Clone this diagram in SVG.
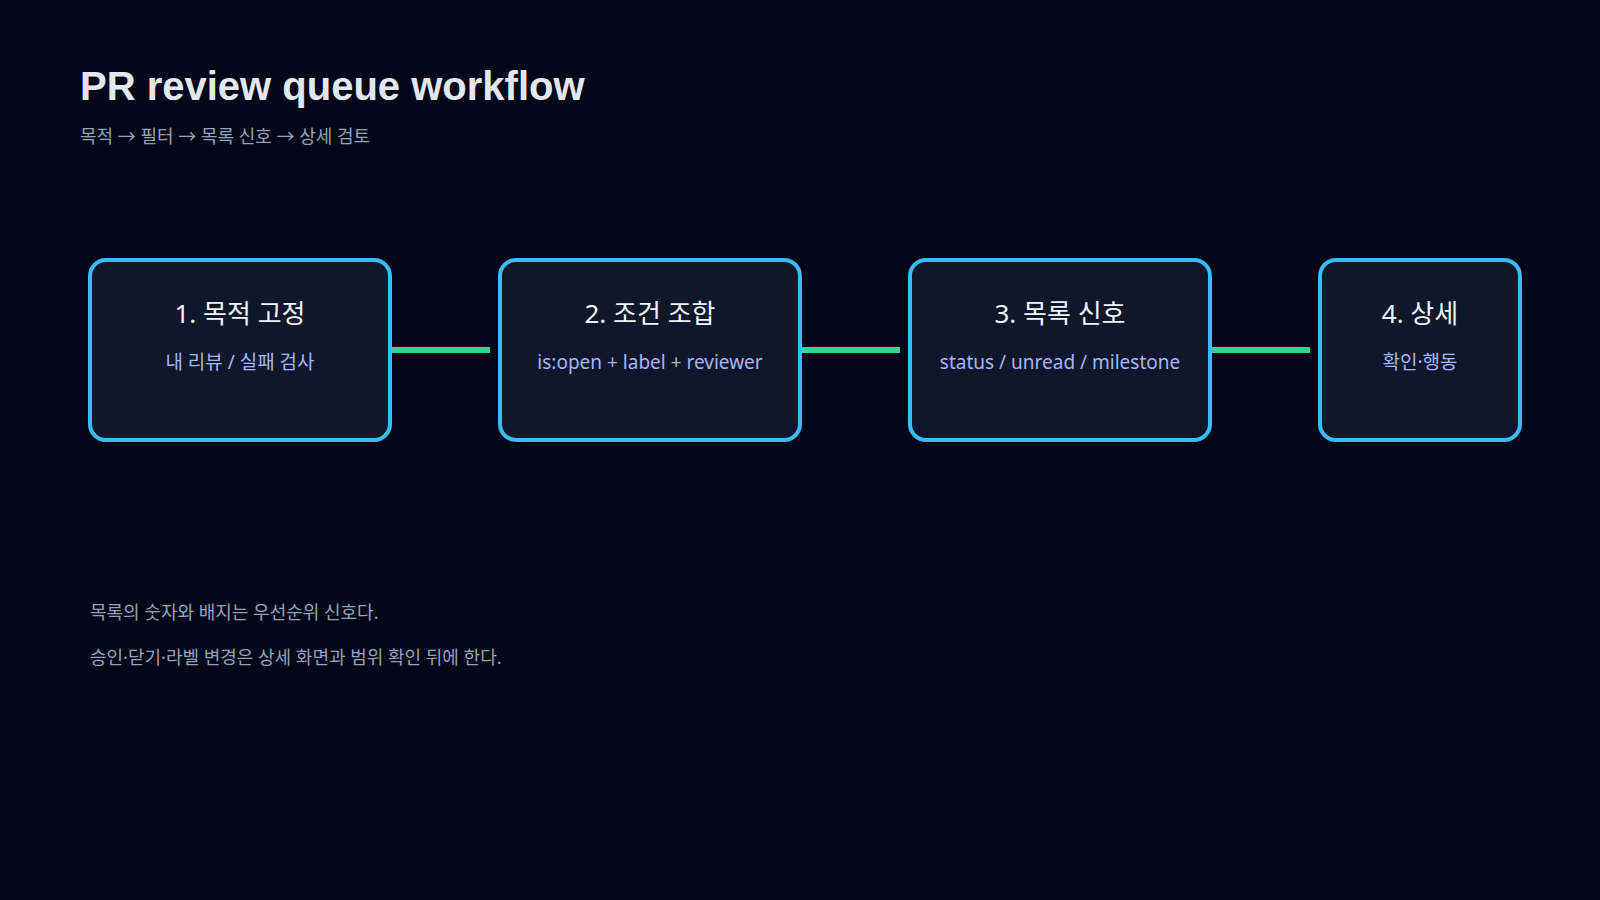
<svg xmlns="http://www.w3.org/2000/svg" width="1600" height="900" viewBox="0 0 1600 900">
<style>
.node rect{fill:#0f172a;stroke:#38bdf8;stroke-width:4}
.t{font-family:"Noto Sans","Noto Sans CJK KR",sans-serif;font-size:26px;fill:#f1f5f9;text-anchor:middle}
.s{font-family:"Noto Sans","Noto Sans CJK KR",sans-serif;font-size:19px;fill:#a5b4fc;text-anchor:middle}
.n{font-family:"Noto Sans","Noto Sans CJK KR",sans-serif;font-size:18px;fill:#94a3b8}
#edges line{stroke:#34d399;stroke-width:6}
</style>
<rect width="1600" height="900" fill="#020617"/>
<text x="80" y="100" font-family="Liberation Sans,Noto Sans CJK KR,sans-serif" font-weight="bold" font-size="40" fill="#e2e8f0">PR review queue workflow</text>
<text x="80" y="143" class="n" font-size="20">목적 → 필터 → 목록 신호 → 상세 검토</text>
<g id="edges">
<line x1="390" y1="350" x2="490" y2="350"/>
<line x1="800" y1="350" x2="900" y2="350"/>
<line x1="1210" y1="350" x2="1310" y2="350"/>
</g>
<g id="n1" class="node"><rect x="90" y="260" width="300" height="180" rx="16"/><text x="240" y="323" class="t">1. 목적 고정</text><text x="240" y="369" class="s">내 리뷰 / 실패 검사</text></g>
<g id="n2" class="node"><rect x="500" y="260" width="300" height="180" rx="16"/><text x="650" y="323" class="t">2. 조건 조합</text><text x="650" y="369" class="s">is:open + label + reviewer</text></g>
<g id="n3" class="node"><rect x="910" y="260" width="300" height="180" rx="16"/><text x="1060" y="323" class="t">3. 목록 신호</text><text x="1060" y="369" class="s">status / unread / milestone</text></g>
<g id="n4" class="node"><rect x="1320" y="260" width="200" height="180" rx="16"/><text x="1420" y="323" class="t">4. 상세</text><text x="1420" y="369" class="s">확인·행동</text></g>
<text x="90" y="619" class="n">목록의 숫자와 배지는 우선순위 신호다.</text>
<text x="90" y="664" class="n">승인·닫기·라벨 변경은 상세 화면과 범위 확인 뒤에 한다.</text>
</svg>
